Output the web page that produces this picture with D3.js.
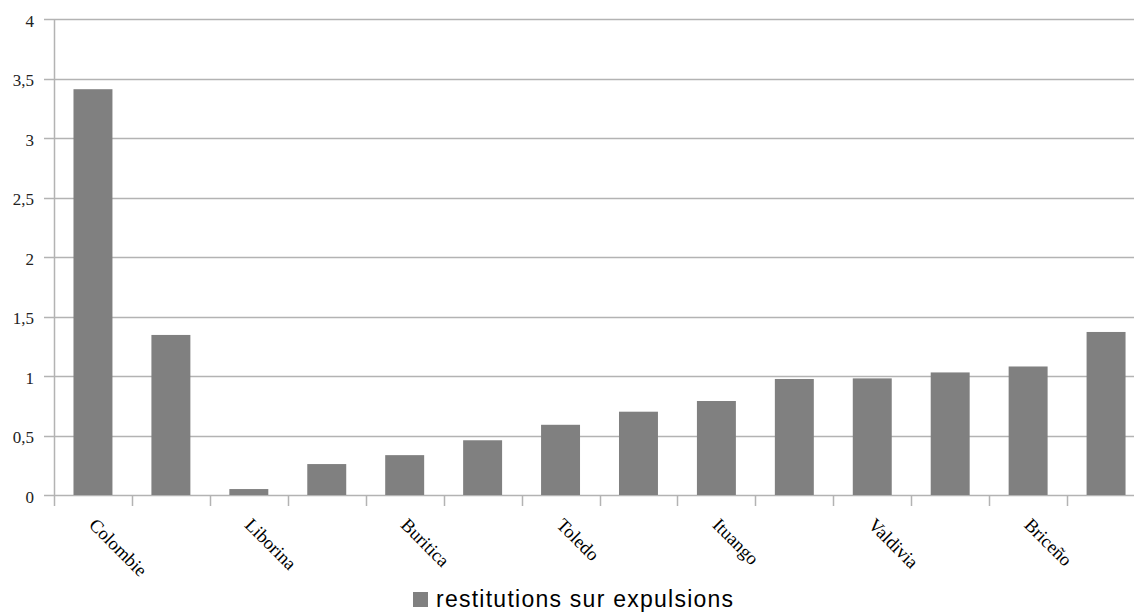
<!DOCTYPE html>
<html>
<head>
<meta charset="utf-8">
<script src="https://cdn.jsdelivr.net/npm/d3@7"></script>
<style>
  html, body { margin: 0; padding: 0; background: #fff; }
  svg { display: block; }
</style>
</head>
<body>
<svg id="chart" width="1134" height="612"></svg>
<script>
// ---- data ----
const categories = ["Colombie", "Antioquia", "Liborina", "Sabanalarga", "Buritica", "Peque",
  "Toledo", "San Andrés de Cuerquia", "Ituango", "Yarumal", "Valdivia", "Campamento", "Briceño", "Angostura"];
const shownLabels = ["Colombie", "Liborina", "Buritica", "Toledo", "Ituango", "Valdivia", "Briceño"];
const values = [3.41, 1.345, 0.05, 0.26, 0.335, 0.46, 0.59, 0.70, 0.79, 0.975, 0.98, 1.03, 1.08, 1.37];
const yTicks = [0, 0.5, 1, 1.5, 2, 2.5, 3, 3.5, 4];
const yTickLabels = ["0", "0,5", "1", "1,5", "2", "2,5", "3", "3,5", "4"];
const seriesName = "restitutions sur expulsions";

(function () {
// ---- layout ----
const svg = d3.select("#chart");
const mLeft = 54, mTop = 19, mBottom = 495;
const step = 77.93;
const mRight = mLeft + step * categories.length;
const gridColor = "#b3b3b3";
const barColor = "#808080";

const x = d3.scaleBand().domain(categories).range([mLeft, mRight])
  .paddingInner(0.5).paddingOuter(0.25);
const y = d3.scaleLinear().domain([0, 4]).range([mBottom, mTop]);

// gridlines
svg.append("g").selectAll("line").data(yTicks).join("line")
  .attr("x1", mLeft - 10).attr("x2", mRight)
  .attr("y1", d => Math.round(y(d)) + 0.5).attr("y2", d => Math.round(y(d)) + 0.5)
  .attr("stroke", gridColor).attr("stroke-width", 1.5);

// y axis line
svg.append("line")
  .attr("x1", mLeft + 0.5).attr("x2", mLeft + 0.5)
  .attr("y1", mTop).attr("y2", mBottom + 11)
  .attr("stroke", gridColor).attr("stroke-width", 1.5);

// y tick labels
svg.append("g").selectAll("text").data(yTicks).join("text")
  .attr("x", 34).attr("y", d => y(d) + 7.5)
  .attr("text-anchor", "end")
  .attr("font-family", "'Liberation Serif', 'Times New Roman', serif")
  .attr("font-size", 17).attr("fill", "#222")
  .text((d, i) => yTickLabels[i]);

// x ticks at band boundaries
const bounds = d3.range(categories.length + 1).map(i => mLeft + i * x.step());
svg.append("g").selectAll("line").data(bounds.slice(1)).join("line")
  .attr("x1", d => Math.round(d) + 0.5).attr("x2", d => Math.round(d) + 0.5)
  .attr("y1", mBottom).attr("y2", mBottom + 11)
  .attr("stroke", gridColor).attr("stroke-width", 1.5);

// bars
svg.append("g").selectAll("rect").data(values).join("rect")
  .attr("x", (d, i) => x(categories[i]))
  .attr("width", x.bandwidth())
  .attr("y", d => y(d))
  .attr("height", d => mBottom - y(d))
  .attr("fill", barColor);

// category labels
svg.append("g").selectAll("text").data(shownLabels).join("text")
  .attr("transform", d => `translate(${x(d) + x.bandwidth() / 2 - 5},${mBottom + 31}) rotate(45)`)
  .attr("text-anchor", "start")
  .attr("font-family", "'Liberation Serif', 'Times New Roman', serif")
  .attr("font-size", 18.5).attr("fill", "#000")
  .text(d => d);

// legend
const lg = svg.append("g");
lg.append("rect").attr("x", 413).attr("y", 592).attr("width", 15).attr("height", 15).attr("fill", barColor);
lg.append("text").attr("x", 436).attr("y", 607)
  .attr("font-family", "'Liberation Sans', Arial, sans-serif")
  .attr("font-size", 23).attr("letter-spacing", 1.25).attr("fill", "#000")
  .text(seriesName);
})();
</script>
</body>
</html>
